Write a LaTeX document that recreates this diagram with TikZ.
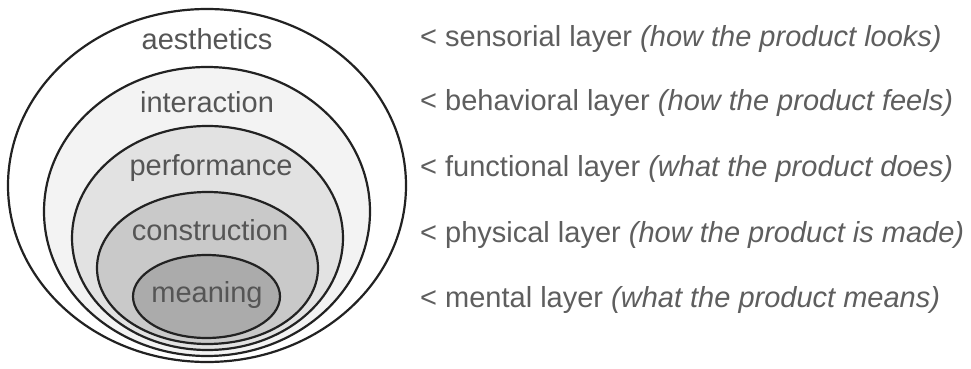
\documentclass[tikz,border=0pt]{standalone}
\usepackage{fontspec}
\setmainfont{Liberation Sans}
\usetikzlibrary{shapes.geometric}
\definecolor{ring}{HTML}{222222}
\definecolor{labelgray}{HTML}{555555}
\definecolor{notegray}{HTML}{5E5E5E}
\definecolor{fillA}{HTML}{FFFFFF}
\definecolor{fillB}{HTML}{F3F3F3}
\definecolor{fillC}{HTML}{E2E2E2}
\definecolor{fillD}{HTML}{C9C9C9}
\definecolor{fillE}{HTML}{ABABAB}
\tikzset{
  layer/.style={ellipse, draw=ring, line width=2.2pt, inner sep=0pt},
  lbl/.style={anchor=base, inner sep=0pt, text=labelgray, font=\fontsize{29}{29}\selectfont},
  note/.style={anchor=base west, inner sep=0pt, text=notegray, font=\fontsize{29}{29}\selectfont}
}
\begin{document}
\begin{tikzpicture}[x=1pt,y=-1pt]
\useasboundingbox (0,0) rectangle (971,369);
\fill[white] (0,0) rectangle (971,369);
% nested layers (outer to inner)
\node[layer, fill=fillA, minimum width=398pt, minimum height=353pt] (Laes) at (207,185.5) {};
\node[layer, fill=fillB, minimum width=326pt, minimum height=289pt] (Lint) at (207,211.5) {};
\node[layer, fill=fillC, minimum width=271pt, minimum height=224pt] (Lper) at (207.5,238) {};
\node[layer, fill=fillD, minimum width=221pt, minimum height=152pt] (Lcon) at (207.5,268) {};
\node[layer, fill=fillE, minimum width=147pt, minimum height=83pt] (Lmea) at (206.5,296.5) {};
% labels
\node[lbl] (taes) at (207,49) {aesthetics};
\node[lbl] (tint) at (207,112) {interaction};
\node[lbl] (tper) at (211,175) {performance};
\node[lbl] (tcon) at (210,240) {construction};
\node[lbl] (tmea) at (207,302) {meaning};
% right-hand notes
\node[note] (naes) at (420,47) {< sensorial layer \textit{(how the product looks)}};
\node[note] (nint) at (420,110) {< behavioral layer \textit{(how the product feels)}};
\node[note] (nper) at (420,176) {< functional layer \textit{(what the product does)}};
\node[note] (ncon) at (420,242) {< physical layer \textit{(how the product is made)}};
\node[note] (nmea) at (420,307) {< mental layer \textit{(what the product means)}};
\end{tikzpicture}
\end{document}
